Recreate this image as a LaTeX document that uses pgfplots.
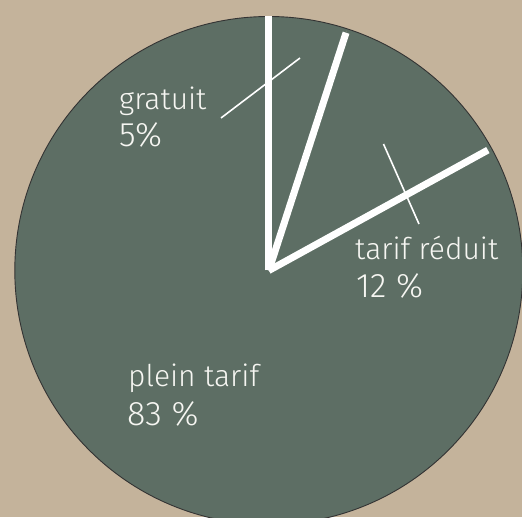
\documentclass[border=0pt]{standalone}
\usepackage{pgfplots}
\pgfplotsset{compat=1.18}
\usepackage{pgfplotstable}
\usepackage{fontspec}
\setmainfont{Fira Sans}[UprightFont={* Light}]
\definecolor{bgtan}{HTML}{C4B39B}
\definecolor{piegreen}{HTML}{5D6E64}
\definecolor{labelwhite}{HTML}{F6F6F2}

\pgfplotstableread{
label value
gratuit 5
reduit 12
plein 83
}\piedata
\pgfplotstablegetelem{0}{value}\of\piedata \let\va\pgfplotsretval
\pgfplotstablegetelem{1}{value}\of\piedata \let\vb\pgfplotsretval
\pgfplotstablegetelem{2}{value}\of\piedata \let\vc\pgfplotsretval
\pgfmathsetmacro\aA{90}
\pgfmathsetmacro\aB{\aA-\va*3.6}
\pgfmathsetmacro\aC{\aB-\vb*3.6}
\pgfmathsetmacro\aD{\aC-\vc*3.6}
\def\cx{268.8}
\def\cy{246.5}
\def\R{254pt}

\begin{document}
\begin{tikzpicture}
\useasboundingbox (0,0) rectangle (522pt,517pt);
\fill[bgtan] (0,0) rectangle (522pt,517pt);
\begin{axis}[
  at={(0,0)}, anchor=south west,
  width=522pt, height=517pt, scale only axis,
  xmin=0, xmax=522, ymin=0, ymax=517,
  hide axis, clip=true,
]
% sectors
\fill[piegreen] (axis cs:\cx,\cy) -- ++(\aA:\R) arc[start angle=\aA, end angle=\aB, radius=\R] -- cycle;
\fill[piegreen] (axis cs:\cx,\cy) -- ++(\aB:\R) arc[start angle=\aB, end angle=\aC, radius=\R] -- cycle;
\fill[piegreen] (axis cs:\cx,\cy) -- ++(\aC:\R) arc[start angle=\aC, end angle=\aD, radius=\R] -- cycle;
\draw[black!80, line width=0.9pt] (axis cs:\cx,\cy) circle[radius=\R];
% separators
\draw[white, line width=7pt] (axis cs:\cx,\cy) -- ++(\aA:\R);
\draw[white, line width=7pt] (axis cs:\cx,\cy) -- ++(\aB:250pt);
\draw[white, line width=7pt] (axis cs:\cx,\cy) -- ++(\aC:250pt);
% leader lines
\addplot[white, line width=1.6pt] coordinates {(221,399) (300,459)};
\addplot[white, line width=1.6pt] coordinates {(383.5,373) (419,293)};
% labels
\begin{scope}[every node/.style={inner sep=0pt, anchor=base west, text=labelwhite, font=\fontsize{30}{36}\selectfont}]
\node at (axis cs:119,407) {gratuit};
\node[font=\fontsize{34}{40}\selectfont] at (axis cs:119,370.5) {5\%};
\node at (axis cs:355,257) {tarif réduit};
\node[font=\fontsize{34}{40}\selectfont] at (axis cs:356,219) {12 \%};
\node at (axis cs:128,130.3) {plein tarif};
\node[font=\fontsize{34}{40}\selectfont] at (axis cs:127,92) {83 \%};
\end{scope}
\end{axis}
\end{tikzpicture}
\end{document}
